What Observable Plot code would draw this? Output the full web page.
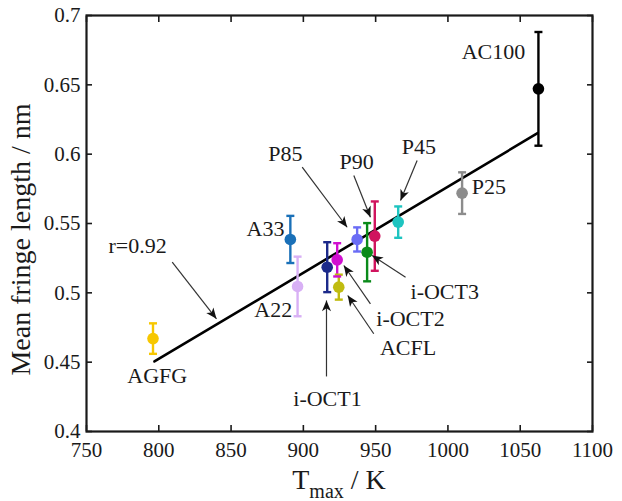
<!DOCTYPE html>
<html>
<head>
<meta charset="utf-8">
<script src="https://cdn.jsdelivr.net/npm/d3@7"></script>
<script src="https://cdn.jsdelivr.net/npm/@observablehq/plot@0.6"></script>
<style>
  html, body { margin: 0; padding: 0; background: #fff; }
  #chart { width: 622px; height: 501px; }
</style>
</head>
<body>
<div id="chart"></div>
<script>
// ---- data ----
const samples = ["AGFG","A22","A33","i-OCT1","ACFL","i-OCT2","P85","i-OCT3","P90","P45","P25","AC100"];
const tmax    = [796, 896, 891, 916.5, 924.5, 923.4, 937.2, 944.1, 949.4, 965.6, 1009.8, 1062.6];
const fringe  = [0.467, 0.5046, 0.5385, 0.5185, 0.5041, 0.5238, 0.5385, 0.5293, 0.5409, 0.551, 0.5719, 0.6471];
const fringeErr = [0.011, 0.0215, 0.017, 0.018, 0.009, 0.012, 0.0087, 0.021, 0.025, 0.0113, 0.015, 0.041];
const colors  = ["#f7c700","#d8b0f5","#1a70b8","#1c2a8a","#c0bc10","#d010d0","#6a6cf5","#0a8a1a","#d0145e","#1ec4c0","#8c8c8c","#000000"];

// label anchor positions (data units)
const labelX = [798.9, 879.2, 873.8, 916.7, 972.4, 974.1, 887.6, 997.8, 936.8, 979.9, 1028.3, 1031.5];
const labelY = [0.4397, 0.4873, 0.5462, 0.4236, 0.4604, 0.4813, 0.6005, 0.5005, 0.5942, 0.6055, 0.5762, 0.6735];

// fit line
const fitT = [797, 1062];
const fitL = [0.4505, 0.6151];
const fitLabel = "r=0.92";
const fitLabelX = 785.3, fitLabelY = 0.534;

// arrows: label -> point
const arrowNames = ["r","P85","P90","P45","i-OCT1","ACFL","i-OCT2","i-OCT3"];
const arrowX1 = [809.3, 899.2, 934.9, 978.7, 916.0, 948.7, 946.4, 970.7];
const arrowY1 = [0.5221, 0.5906, 0.5846, 0.5954, 0.4397, 0.4705, 0.4921, 0.5113];
const arrowX2 = [839.9, 930.3, 946.4, 967.2, 916.0, 930.7, 928.0, 947.6];
const arrowY2 = [0.4813, 0.5473, 0.5545, 0.5666, 0.4945, 0.4981, 0.5197, 0.5269];

const xTicks = [750, 800, 850, 900, 950, 1000, 1050, 1100];
const yTicks = [0.4, 0.45, 0.5, 0.55, 0.6, 0.65, 0.7];
const yTitle = "Mean fringe length / nm";

// ---- build tables ----
const rows = samples.map((s, i) => ({name: s, t: tmax[i], y: fringe[i], e: fringeErr[i], c: colors[i], lx: labelX[i], ly: labelY[i]}));
const fit = fitT.map((t, i) => ({t, y: fitL[i]}));
const arrows = arrowNames.map((n, i) => ({n, x1: arrowX1[i], y1: arrowY1[i], x2: arrowX2[i], y2: arrowY2[i]}));

const capSymbol = {
  draw(ctx, size) {
    const w = Math.sqrt(size / Math.PI);
    ctx.moveTo(-w, 0); ctx.lineTo(w, 0);
  }
};

// filled, barbed arrow head marker
function headMarker(color, context) {
  const doc = (context && context.document) || document;
  const m = doc.createElementNS("http://www.w3.org/2000/svg", "marker");
  m.setAttribute("viewBox", "-6 -5 11 10");
  m.setAttribute("markerWidth", 10);
  m.setAttribute("markerHeight", 9);
  m.setAttribute("refX", 4.5);
  m.setAttribute("refY", 0);
  m.setAttribute("orient", "auto");
  const p = doc.createElementNS("http://www.w3.org/2000/svg", "path");
  p.setAttribute("d", "M4.5,0 L-5.5,-4.2 L-2.8,0 L-5.5,4.2 Z");
  p.setAttribute("fill", "#111");
  p.setAttribute("stroke", "none");
  m.appendChild(p);
  return m;
}

const FONT = "Liberation Serif, Times New Roman, serif";
const ink = "#1a1a1a";

const plot = Plot.plot({
  width: 622,
  height: 501,
  marginLeft: 86,
  marginRight: 30,
  marginTop: 15,
  marginBottom: 70,
  style: {fontFamily: FONT, background: "#fff", color: ink},
  x: {domain: [750, 1100], label: null},
  y: {domain: [0.4, 0.7], label: null},
  color: {type: "identity"},
  marks: [
    Plot.axisX({anchor: "bottom", ticks: xTicks, tickSize: -6, tickPadding: 17, fontSize: 21, strokeWidth: 1.6, tickFormat: d => String(d), label: null}),
    Plot.axisX({anchor: "top", ticks: xTicks, tickSize: -6, strokeWidth: 1.6, tickFormat: () => "", label: null}),
    Plot.axisY({anchor: "left", ticks: yTicks, tickSize: -6, tickPadding: 12, fontSize: 21, strokeWidth: 1.6, tickFormat: d => String(d), label: null}),
    Plot.axisY({anchor: "right", ticks: yTicks, tickSize: -6, strokeWidth: 1.6, tickFormat: () => "", label: null}),
    Plot.frame({stroke: ink, strokeWidth: 2.2}),
    Plot.line(fit, {x: "t", y: "y", stroke: "#000", strokeWidth: 2.6}),
    // error bars
    Plot.ruleX(rows, {x: "t", y1: d => d.y - d.e, y2: d => d.y + d.e, stroke: "c", strokeWidth: 2.4}),
    Plot.dot(rows, {x: "t", y: d => d.y + d.e, symbol: capSymbol, r: 4, stroke: "c", strokeWidth: 2.4}),
    Plot.dot(rows, {x: "t", y: d => d.y - d.e, symbol: capSymbol, r: 4, stroke: "c", strokeWidth: 2.4}),
    Plot.dot(rows, {x: "t", y: "y", r: 5.8, fill: "c", stroke: "none"}),
    // arrows
    Plot.link(arrows, {x1: "x1", y1: "y1", x2: "x2", y2: "y2", stroke: "#333", strokeWidth: 1.2, markerEnd: headMarker}),
    // labels
    Plot.text(rows, {x: "lx", y: "ly", text: "name", fontSize: 22, fill: ink, textAnchor: "middle", lineAnchor: "middle"}),
    Plot.text([fitLabel], {x: () => fitLabelX, y: () => fitLabelY, text: d => d, fontSize: 22, fill: ink, lineAnchor: "middle"}),
    // y title
    Plot.text([yTitle], {frameAnchor: "left", text: d => d, rotate: -90, dx: -65, dy: 16, fontSize: 28, fill: ink, lineAnchor: "middle", textAnchor: "middle"})
  ]
});

document.getElementById("chart").appendChild(plot);

// x title with subscript
const xr = plot.scale("x").range;
const cx = (xr[0] + xr[1]) / 2;
const t = d3.select(plot).append("text")
  .attr("x", cx).attr("y", 489)
  .attr("text-anchor", "middle")
  .attr("font-family", FONT)
  .attr("font-size", 28)
  .attr("fill", ink);
t.append("tspan").text("T");
t.append("tspan").attr("font-size", 20).attr("dy", 9).text("max");
t.append("tspan").attr("dy", -9).text(" / K");
</script>
</body>
</html>
